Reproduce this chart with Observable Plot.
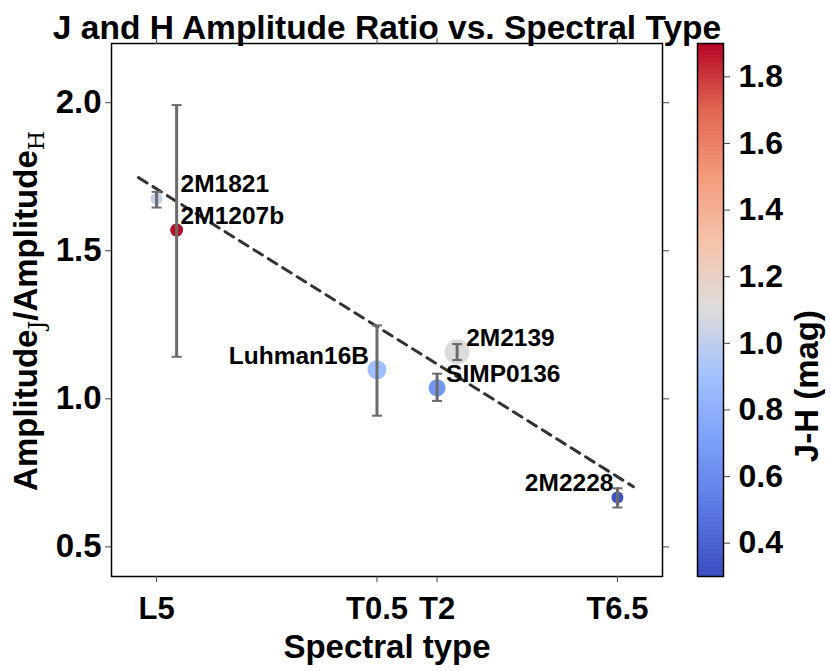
<!DOCTYPE html>
<html><head><meta charset="utf-8">
<script src="https://cdn.jsdelivr.net/npm/d3@7"></script>
<script src="https://cdn.jsdelivr.net/npm/@observablehq/plot@0.6"></script>
<style>
body{margin:0;background:#fff;}
#wrap{position:relative;width:830px;height:671px;}
#wrap svg{position:absolute;left:0;top:0;}
</style></head><body><div id="wrap"></div>
<script>
// ---- data ----
const names = ["2M1821", "2M1207b", "Luhman16B", "SIMP0136", "2M2139", "2M2228"];
const spt = [15, 15.5, 20.5, 22, 22.5, 26.5];           // L0 = 10, T0 = 20
const ratio = [1.676, 1.570, 1.098, 1.037, 1.159, 0.667];
const ratioLo = [1.646, 1.142, 0.943, 0.993, 1.131, 0.633];
const ratioHi = [1.699, 1.992, 1.248, 1.085, 1.185, 0.698];
const jh = [1.02, 1.88, 0.88, 0.65, 1.1, 0.33];
const markerRadius = [6, 6.5, 9.5, 8.5, 12.5, 6];
const fitSpt = [14.55, 26.9];
const fitRatio = [1.747, 0.703];
const xTicks = [15, 20.5, 22, 26.5];
const xTickLabels = ["L5", "T0.5", "T2", "T6.5"];
const yTicks = [0.5, 1.0, 1.5, 2.0];
const cbTicks = [0.4, 0.6, 0.8, 1.0, 1.2, 1.4, 1.6, 1.8];
const cbStops = [0.3, 0.5, 0.7, 0.9, 1.1, 1.3, 1.5, 1.7, 1.9];
const coolwarm = ["#3b4cc0", "#5977e3", "#7b9ff9", "#a2c1ff", "#dddcdc", "#f5c4ac", "#f49a7b", "#e0654f", "#b40426"];

const data = names.map((n, i) => ({name: n, x: spt[i], y: ratio[i], lo: ratioLo[i], hi: ratioHi[i], jh: jh[i], r: markerRadius[i]}));
const fit = fitSpt.map((x, i) => ({x, y: fitRatio[i]}));
const font = "'Liberation Sans', Arial, Helvetica, sans-serif";
const colorScale = {type: "linear", domain: cbStops, range: coolwarm, interpolate: "rgb"};
const capSymbol = {draw(ctx, size) { const r = Math.sqrt(size / Math.PI); ctx.moveTo(-r, 0); ctx.lineTo(r, 0); }};
const errColor = "#6b6b6b";
const tickColor = "#444";

const lab = (name, anchor, dx, dy) => Plot.text(data.filter(d => d.name === name),
  {x: "x", y: "y", text: "name", textAnchor: anchor, dx, dy, fontSize: 24.5, fill: "black"});

const main = Plot.plot({
  width: 830, height: 671,
  marginLeft: 111, marginRight: 168, marginTop: 43, marginBottom: 95,
  style: {fontFamily: font, fontWeight: "bold", background: "white", overflow: "visible", color: "black"},
  x: {domain: [13.875, 27.625]},
  y: {domain: [0.4, 2.2]},
  color: colorScale,
  r: {type: "identity"},
  marks: [
    Plot.line(fit, {x: "x", y: "y", stroke: "#333", strokeWidth: 3, strokeDasharray: "10,7"}),
    Plot.dot(data, {x: "x", y: "y", r: "r", fill: "jh"}),
    Plot.ruleX(data, {x: "x", y1: "lo", y2: "hi", stroke: errColor, strokeWidth: 3}),
    Plot.dot(data, {x: "x", y: "lo", r: 5, symbol: capSymbol, stroke: errColor, strokeWidth: 2}),
    Plot.dot(data, {x: "x", y: "hi", r: 5, symbol: capSymbol, stroke: errColor, strokeWidth: 2}),
    lab("2M1821", "start", 24, -15),
    lab("2M1207b", "start", 4, -14),
    lab("Luhman16B", "end", -8, -14),
    lab("SIMP0136", "start", 9, -14),
    lab("2M2139", "start", 9, -14),
    lab("2M2228", "end", -4, -14),
    Plot.frame({stroke: "black", strokeWidth: 1.5}),
    Plot.axisX({anchor: "bottom", ticks: xTicks, tickFormat: d => xTickLabels[xTicks.indexOf(d)],
      fontSize: 31, tickSize: 6, tickPadding: 14, label: null, stroke: tickColor, color: "black"}),
    Plot.axisX({anchor: "top", ticks: xTicks, tickFormat: () => "", tickSize: 6, label: null, stroke: tickColor}),
    Plot.axisY({anchor: "left", ticks: yTicks, tickFormat: ".1f", fontSize: 33, tickSize: 6, tickPadding: 4,
      label: null, stroke: tickColor}),
    Plot.axisY({anchor: "right", ticks: yTicks, tickFormat: () => "", tickSize: 6, label: null, stroke: tickColor}),
    Plot.text(["Spectral type"], {frameAnchor: "bottom", lineAnchor: "top", dy: 58, fontSize: 33}),
    Plot.text(["J and H Amplitude Ratio vs. Spectral Type"], {frameAnchor: "top", lineAnchor: "bottom", dy: -5, fontSize: 33.5})
  ]
});

// y-axis title with subscripts
const yl = d3.select(main).append("text")
  .attr("transform", "translate(37,311) rotate(-90)")
  .attr("text-anchor", "middle")
  .attr("font-family", font).attr("font-weight", "bold").attr("font-size", 33).attr("fill", "black");
yl.append("tspan").text("Amplitude");
yl.append("tspan").attr("dy", 7).attr("font-family", "'DejaVu Serif', 'Liberation Serif', serif")
  .attr("font-weight", "normal").attr("font-size", 22).text("J");
yl.append("tspan").attr("dy", -7).text("/Amplitude");
yl.append("tspan").attr("dy", 7).attr("font-family", "'DejaVu Serif', 'Liberation Serif', serif")
  .attr("font-weight", "normal").attr("font-size", 22).text("H");

const ramp = d3.range(0.3, 1.9, 0.004);
const cb = Plot.plot({
  width: 830, height: 671,
  marginLeft: 697, marginRight: 107, marginTop: 43, marginBottom: 95,
  style: {fontFamily: font, fontWeight: "bold", background: "transparent", overflow: "visible", color: "black"},
  x: {domain: [0, 1], axis: null},
  y: {domain: [0.3, 1.9]},
  color: colorScale,
  marks: [
    Plot.ruleY(ramp, {y: d => d + 0.002, stroke: d => d, strokeWidth: 2}),
    Plot.frame({stroke: "black", strokeWidth: 1.5}),
    Plot.axisY({anchor: "right", ticks: cbTicks, tickFormat: ".1f", fontSize: 32, tickSize: 6, tickPadding: 9,
      label: null, stroke: tickColor}),
    Plot.text(["J-H (mag)"], {frameAnchor: "right", rotate: -90, dx: 84, fontSize: 33})
  ]
});

document.getElementById("wrap").append(main, cb);
</script></body></html>
